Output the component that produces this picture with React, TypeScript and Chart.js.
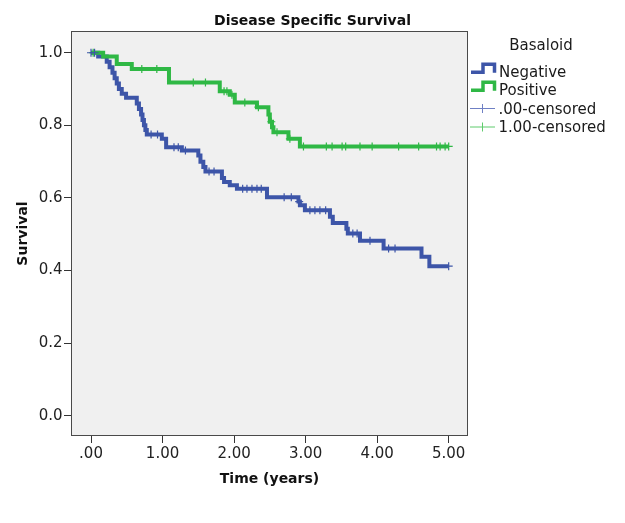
import React, { useEffect, useRef } from 'react';
import { Chart, registerables } from 'chart.js';

Chart.register(...registerables);

// Kaplan-Meier step data (time in years, survival after the step)
const negativeTimes = [0, 0.10, 0.22, 0.26, 0.30, 0.33, 0.36, 0.39, 0.43, 0.49, 0.64, 0.67, 0.70, 0.72, 0.74, 0.76, 0.78, 0.99, 1.05, 1.27, 1.50, 1.53, 1.57, 1.60, 1.83, 1.86, 1.94, 2.04, 2.46, 2.90, 2.92, 2.99, 3.34, 3.38, 3.57, 3.59, 3.76, 4.09, 4.62, 4.73, 5.00];
const negativeSurvival = [1.0, 0.99, 0.975, 0.96, 0.945, 0.93, 0.915, 0.90, 0.887, 0.876, 0.86, 0.845, 0.83, 0.815, 0.80, 0.787, 0.775, 0.763, 0.74, 0.731, 0.717, 0.70, 0.685, 0.673, 0.655, 0.644, 0.635, 0.625, 0.602, 0.59, 0.58, 0.566, 0.548, 0.531, 0.515, 0.502, 0.482, 0.461, 0.438, 0.412, 0.412];

const positiveTimes = [0, 0.17, 0.36, 0.57, 1.09, 1.80, 1.94, 2.01, 2.32, 2.48, 2.50, 2.53, 2.55, 2.76, 2.92, 5.00];
const positiveSurvival = [1.0, 0.99, 0.969, 0.955, 0.918, 0.894, 0.884, 0.863, 0.85, 0.83, 0.81, 0.795, 0.781, 0.763, 0.742, 0.742];

// censoring times
const negativeCensored = [0.0, 0.05, 0.84, 0.93, 1.16, 1.22, 1.32, 1.65, 1.72, 2.12, 2.18, 2.25, 2.32, 2.38, 2.70, 2.80, 2.91, 3.06, 3.13, 3.20, 3.28, 3.66, 3.72, 3.90, 4.16, 4.25, 5.0];
const positiveCensored = [0.03, 0.71, 0.92, 1.43, 1.60, 1.86, 1.90, 1.97, 2.15, 2.34, 2.52, 2.60, 2.78, 2.97, 3.29, 3.37, 3.51, 3.56, 3.76, 3.93, 4.30, 4.58, 4.83, 4.88, 4.95, 5.0];

const xTickValues = [0, 1, 2, 3, 4, 5];
const yTickValues = [0, 0.2, 0.4, 0.6, 0.8, 1.0];

const seriesNames = ['Negative', 'Positive'];
const censorNames = ['.00-censored', '1.00-censored'];
const legendTitle = 'Basaloid';

const BLUE = '#3d55a8';
const GREEN = '#2fb845';
const BLUE_LIGHT = '#6f80c4';
const GREEN_LIGHT = '#5fcb6c';
const FONT = '"DejaVu Sans", "Liberation Sans", sans-serif';

function survivalAt(times: number[], surv: number[], t: number) {
  let s = surv[0];
  for (let i = 0; i < times.length; i++) {
    if (times[i] <= t + 1e-9) s = surv[i];
  }
  return s;
}

const legendPlugin = {
  id: 'spssLegend',
  afterDraw(chart: any) {
    const ctx = chart.ctx;
    ctx.save();
    ctx.fillStyle = '#1a1a1a';
    ctx.font = `15px ${FONT}`;
    ctx.textBaseline = 'alphabetic';
    ctx.textAlign = 'center';
    ctx.fillText(legendTitle, 541, 50);
    ctx.textAlign = 'left';
    const rows = [76.7, 94.8, 113.5, 132];
    const stepColors = [BLUE, GREEN];
    for (let i = 0; i < 2; i++) {
      const b = rows[i];
      ctx.strokeStyle = stepColors[i];
      ctx.lineWidth = 3.5;
      ctx.lineJoin = 'miter';
      ctx.beginPath();
      ctx.moveTo(471, b - 4.5);
      ctx.lineTo(483, b - 4.5);
      ctx.lineTo(483, b - 12.5);
      ctx.lineTo(494.5, b - 12.5);
      ctx.lineTo(494.5, b - 4);
      ctx.stroke();
      ctx.fillStyle = '#1a1a1a';
      ctx.fillText(seriesNames[i], 499, b);
    }
    const crossColors = [BLUE_LIGHT, GREEN_LIGHT];
    for (let i = 0; i < 2; i++) {
      const b = rows[2 + i];
      const cy = b - 5.5;
      ctx.strokeStyle = crossColors[i];
      ctx.lineWidth = 1;
      ctx.beginPath();
      ctx.moveTo(470, cy + 0.5);
      ctx.lineTo(495, cy + 0.5);
      ctx.moveTo(482.5, cy - 4);
      ctx.lineTo(482.5, cy + 5);
      ctx.stroke();
      ctx.fillStyle = '#1a1a1a';
      ctx.fillText(censorNames[i], 498.5, b);
    }
    // plot frame
    const a = chart.chartArea;
    ctx.strokeStyle = '#4a4a4a';
    ctx.lineWidth = 1;
    ctx.strokeRect(a.left + 0.5, a.top + 0.5, a.right - a.left - 1, a.bottom - a.top - 1);
    ctx.restore();
  },
  beforeDraw(chart: any) {
    const a = chart.chartArea;
    const ctx = chart.ctx;
    ctx.save();
    ctx.fillStyle = '#f0f0f0';
    ctx.fillRect(a.left, a.top, a.right - a.left, a.bottom - a.top);
    ctx.restore();
  },
};

export default function App() {
  const canvasRef = useRef<HTMLCanvasElement | null>(null);

  useEffect(() => {
    document.body.style.margin = '0';
    const canvas = canvasRef.current;
    if (!canvas) return;

    const negLine = negativeTimes.map((t, i) => ({ x: t, y: negativeSurvival[i] }));
    const posLine = positiveTimes.map((t, i) => ({ x: t, y: positiveSurvival[i] }));
    const negCens = negativeCensored.map((t) => ({ x: t, y: survivalAt(negativeTimes, negativeSurvival, t) }));
    const posCens = positiveCensored.map((t) => ({ x: t, y: survivalAt(positiveTimes, positiveSurvival, t) }));

    const tickFont = { family: FONT, size: 15 };
    const titleFont = { family: FONT, size: 14, weight: 'bold' as const, lineHeight: 1.2 };

    const chart = new Chart(canvas, {
      type: 'line',
      data: {
        datasets: [
          {
            label: 'Negative',
            data: negLine,
            borderColor: BLUE,
            borderWidth: 4,
            stepped: 'before',
            pointRadius: 0,
            fill: false,
            borderJoinStyle: 'miter',
            order: 2,
          } as any,
          {
            label: 'Positive',
            data: posLine,
            borderColor: GREEN,
            borderWidth: 4,
            stepped: 'before',
            pointRadius: 0,
            fill: false,
            borderJoinStyle: 'miter',
            order: 1,
          } as any,
          {
            label: '.00-censored',
            data: negCens,
            showLine: false,
            pointStyle: 'cross',
            pointRadius: 4,
            pointBorderWidth: 1.2,
            pointBorderColor: BLUE,
            borderColor: BLUE,
            order: 0,
          } as any,
          {
            label: '1.00-censored',
            data: posCens,
            showLine: false,
            pointStyle: 'cross',
            pointRadius: 4,
            pointBorderWidth: 1.2,
            pointBorderColor: GREEN,
            borderColor: GREEN,
            order: 0,
          } as any,
        ],
      },
      options: {
        responsive: false,
        animation: false,
        events: [],
        layout: { padding: 0 },
        plugins: {
          legend: { display: false },
          tooltip: { enabled: false },
          title: {
            display: true,
            text: 'Disease Specific Survival',
            color: '#111',
            font: titleFont,
            padding: { top: 12.8, bottom: 1.4 },
          },
        },
        scales: {
          x: {
            type: 'linear',
            position: 'bottom',
            min: -0.2796,
            max: 5.27,
            afterBuildTicks: (scale: any) => {
              scale.ticks = xTickValues.map((v) => ({ value: v }));
            },
            afterFit: (scale: any) => {
              scale.height = 87;
            },
            ticks: {
              font: tickFont,
              color: '#222',
              padding: 2,
              maxRotation: 0,
              autoSkip: false,
              callback: (v: any) => (Number(v) === 0 ? '.00' : Number(v).toFixed(2)),
            },
            grid: { display: true, drawOnChartArea: false, drawTicks: true, tickLength: 7, tickColor: '#333', color: '#333' },
            border: { display: false },
            title: {
              display: true,
              text: 'Time (years)',
              color: '#111',
              font: titleFont,
              padding: { top: 0, bottom: 35.4 },
            },
          },
          y: {
            type: 'linear',
            position: 'left',
            min: -0.056,
            max: 1.06,
            afterBuildTicks: (scale: any) => {
              scale.ticks = yTickValues.map((v) => ({ value: v }));
            },
            afterFit: (scale: any) => {
              scale.width = 71;
            },
            ticks: {
              font: tickFont,
              color: '#222',
              padding: 1.5,
              autoSkip: false,
              callback: (v: any) => Number(v).toFixed(1),
            },
            grid: { display: true, drawOnChartArea: false, drawTicks: true, tickLength: 7, tickColor: '#333', color: '#333' },
            border: { display: false },
            title: {
              display: true,
              text: 'Survival',
              color: '#111',
              font: titleFont,
              padding: { top: 15.1, bottom: 0 },
            },
          },
          yRight: {
            type: 'linear',
            position: 'right',
            min: 0,
            max: 1,
            display: true,
            ticks: { display: false },
            grid: { display: false },
            border: { display: false },
            afterFit: (scale: any) => {
              scale.width = 157;
            },
          },
        },
      },
      plugins: [legendPlugin],
    });

    return () => {
      chart.destroy();
    };
  }, []);

  return <canvas ref={canvasRef} width={625} height={523} style={{ display: 'block' }} />;
}
